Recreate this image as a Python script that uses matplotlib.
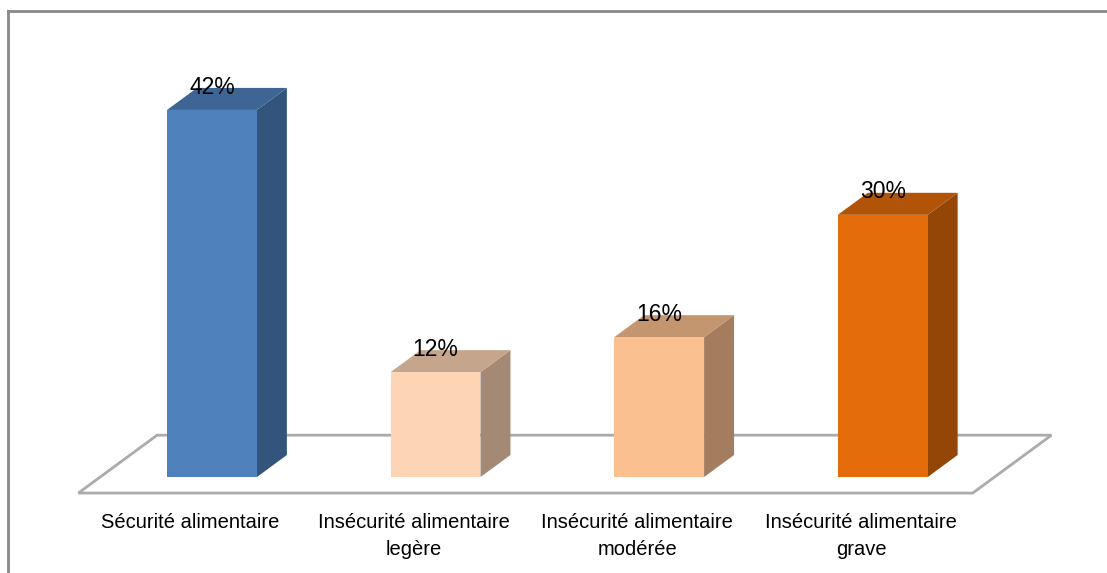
import numpy as np
import matplotlib.pyplot as plt
from matplotlib.patches import Polygon
from matplotlib.lines import Line2D
from matplotlib.colors import to_rgb

categories = ["Sécurité alimentaire",
              "Insécurité alimentaire\nlegère",
              "Insécurité alimentaire\nmodérée",
              "Insécurité alimentaire\ngrave"]
values = [42, 12, 16, 30]
labels = ["42%", "12%", "16%", "30%"]
colors = ["#4F81BD", "#FDD5B4", "#FAC090", "#E46C0A"]

FONT = "Liberation Sans"

# depth vector of the fake 3d projection (category units, percent units)
DX = 0.134
DY = 2.52
HALF_W = 0.201
FLOOR_FRONT = -0.727
FLOOR_BACK = 1.9


def shade(c, f):
    r, g, b = to_rgb(c)
    return (r * f, g * f, b * f)


fig = plt.figure(figsize=(11.07, 5.73), dpi=100)
ax = fig.add_axes([0, 0, 1, 1])
ax.set_xlim(-0.948, 4.003)
ax.set_ylim(-10.98, 54.58)
ax.axis("off")

# floor
n = len(values)
fl, fr = -0.5, n - 0.5
floor = [(fl + FLOOR_FRONT * DX, FLOOR_FRONT * DY),
         (fr + FLOOR_FRONT * DX, FLOOR_FRONT * DY),
         (fr + FLOOR_BACK * DX, FLOOR_BACK * DY),
         (fl + FLOOR_BACK * DX, FLOOR_BACK * DY)]
ax.add_patch(Polygon(floor, closed=True, facecolor="white",
                     edgecolor="#ABABAB", linewidth=2, zorder=1))

for i, (v, c) in enumerate(zip(values, colors)):
    x0, x1 = i - HALF_W, i + HALF_W
    front = [(x0, 0), (x1, 0), (x1, v), (x0, v)]
    side = [(x1, 0), (x1 + DX, DY), (x1 + DX, v + DY), (x1, v)]
    top = [(x0, v), (x1, v), (x1 + DX, v + DY), (x0 + DX, v + DY)]
    ax.add_patch(Polygon(side, closed=True, facecolor=shade(c, 0.65),
                         edgecolor="none", zorder=3))
    ax.add_patch(Polygon(top, closed=True, facecolor=shade(c, 0.78),
                         edgecolor="none", zorder=3))
    ax.add_patch(Polygon(front, closed=True, facecolor=c,
                         edgecolor="none", zorder=4))
    ax.text(i, v + DY + 0.1, labels[i], ha="center", va="center",
            fontsize=16.5, family=FONT, color="black", zorder=5)
    ax.text(i + FLOOR_FRONT * DX, -4.15, categories[i], ha="center", va="top",
            fontsize=14.5, family=FONT, color="black", linespacing=1.5)

# chart area border (top and left edges only show)
fig.add_artist(Line2D([8 / 1107, 1], [1 - 11 / 573, 1 - 11 / 573],
                      color="#888888", linewidth=2))
fig.add_artist(Line2D([8 / 1107, 8 / 1107], [1 - 11 / 573, 0],
                      color="#888888", linewidth=2))

fig.savefig("out.png", dpi=100)
